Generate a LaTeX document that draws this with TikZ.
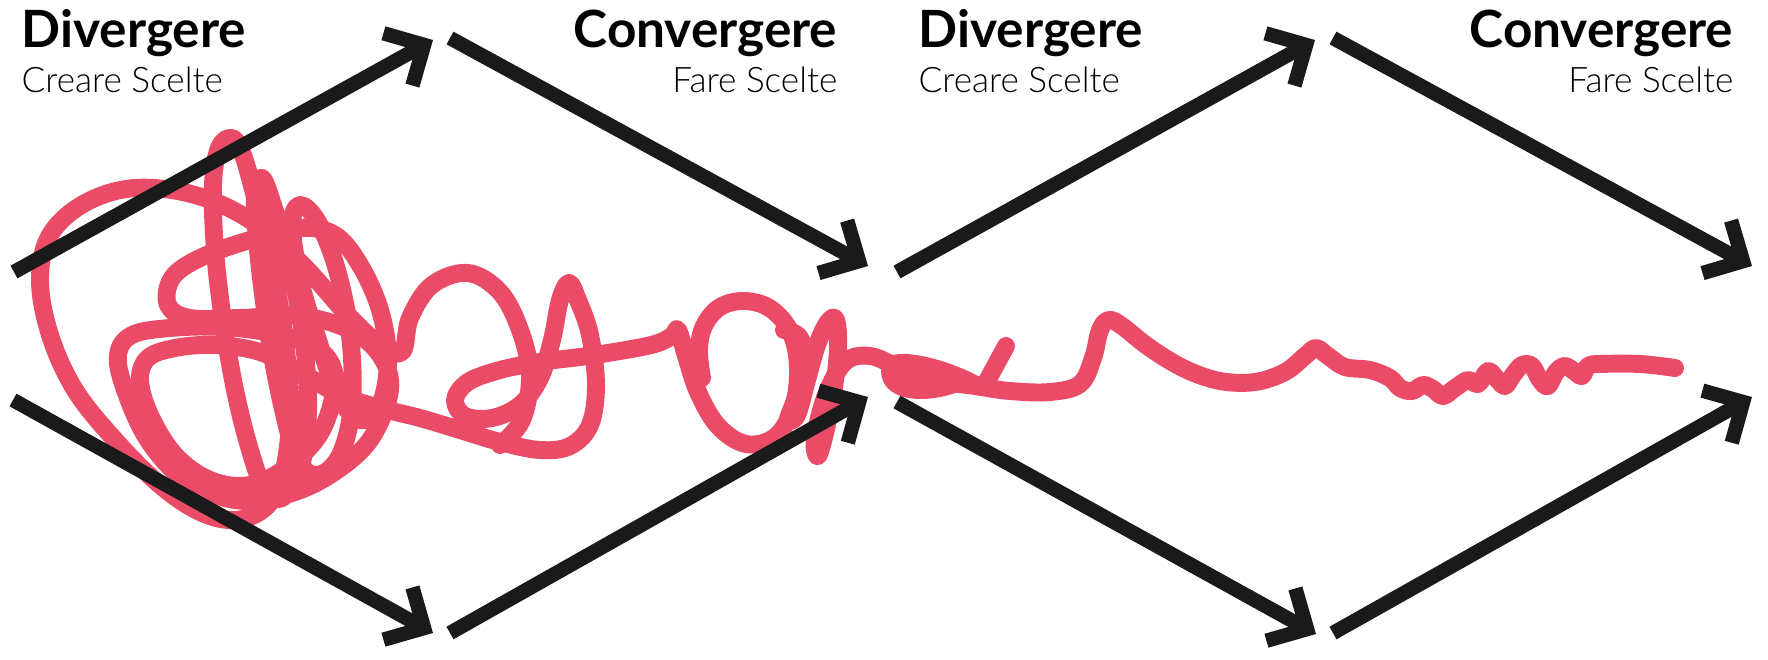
\documentclass[tikz,border=0pt]{standalone}
\usepackage{fontspec}
\setmainfont{Lato}
\newfontfamily\latolight{Lato Light}
\usetikzlibrary{arrows.meta}
\definecolor{scrib}{RGB}{234,76,103}
\definecolor{inkc}{RGB}{26,26,26}
\begin{document}
\begin{tikzpicture}[x=0.01cm,y=-0.01cm,
  flow/.style={draw=inkc, line width=4.1pt, -{Straight Barb[length=8.5pt,width=17pt,sharp]}},
  scribble/.style={draw=scrib, line width=5.1pt, line cap=round, line join=round},
  headbold/.style={font=\fontsize{14.6}{17}\selectfont\bfseries, text=black, inner sep=0pt},
  sublight/.style={font=\latolight\fontsize{10}{12}\selectfont, text=black, inner sep=0pt}]
\useasboundingbox (0,0) rectangle (1768,660);

% scribble: tangle and first loops
\draw[scribble] plot[smooth, tension=0.6] coordinates {
(500,445) (522,420) (530,375) (520,330) (500,292) (468,273) (432,285) (410,318) (402,352) (380,345) (345,312) (300,262) (250,220) (195,195) (135,188) (85,203) (50,235) (40,280) (50,335) (75,390) (115,440) (160,485) (200,512) (235,520) (265,508) (282,478) (290,420) (286,350) (274,275) (257,205) (243,155) (232,138) (219,148) (213,185) (215,250) (223,320) (235,390) (250,450) (265,490) (282,498) (300,470) (308,410) (303,335) (290,265) (273,205) (262,178) (255,195) (258,250) (268,330) (282,405) (298,460) (318,475) (340,455) (352,405) (350,335) (337,270) (318,222) (300,205) (292,225) (300,280) (318,340) (338,395) (360,420) (380,405) (388,360) (380,310) (360,265) (335,235) (300,228) (250,240) (200,258) (172,278) (168,305) (190,318) (240,318) (300,316) (350,330) (380,355) (390,390) (370,440) (330,475) (285,495) (235,500) (185,480) (148,440) (125,390) (118,355) (132,335) (170,328) (225,327) (280,335) (320,350) (335,380) (322,430) (290,465) (250,485) (210,480) (175,455) (150,415) (140,380) (148,358) (175,348) (215,345) (260,352) (300,372) (340,395) (380,408) (420,418) (460,430) (500,442) (540,450) (570,446) (590,425) (596,385) (590,335) (578,300) (569,283) (560,300) (552,340) (540,378) (520,405) (492,418) (465,416) (455,400) (468,382) (500,370) (540,362) (580,357) (620,351) (655,344) (672,336) (678,330) (686,356) (698,392) (718,426) (746,444) (775,437) (793,408) (798,368) (791,333) (771,309) (745,301) (720,307) (704,326) (699,350) (702,378)};
% scribble: from the round loop to the tail
\draw[scribble] plot[smooth, tension=0.6] coordinates {
(784,330) (800,338) (805,368) (795,400) (788,420) (797,415) (807,380) (817,345) (828,322) (836,320) (838,350) (832,400) (822,445) (817,456) (815,438) (826,395) (845,362) (870,356) (900,368) (935,380) (975,386) (1010,391) (1050,392) (1080,384) (1093,358) (1100,330) (1109,320) (1122,326) (1150,348) (1185,369) (1220,381) (1255,382) (1285,372) (1305,356) (1316,348) (1328,356) (1345,367) (1370,370) (1390,378) (1400,388) (1412,391) (1423,385) (1433,389) (1443,396) (1455,388) (1468,380) (1478,384) (1488,371) (1497,379) (1505,386) (1513,375) (1522,365) (1532,366) (1540,380) (1548,386) (1556,372) (1565,366) (1575,372) (1582,376) (1588,366) (1600,364) (1640,364) (1675,368)};
\fill[scrib] (884,360) .. controls (895,346) and (945,358) .. (982,378) .. controls (962,397) and (912,407) .. (891,391) .. controls (880,383) and (879,369) .. (884,360) -- cycle;
\draw[scribble] (987,381) -- (1006,346);

% arrows
\coordinate (d1s) at (14,272);  \coordinate (d1e) at (433,40);
\coordinate (c1s) at (450,38);  \coordinate (c1e) at (868,266);
\coordinate (d2s) at (13,400);  \coordinate (d2e) at (433,633);
\coordinate (c2s) at (450,633); \coordinate (c2e) at (868,397);
\coordinate (d3s) at (897,272); \coordinate (d3e) at (1315,40);
\coordinate (c3s) at (1333,38); \coordinate (c3e) at (1752,266);
\coordinate (d4s) at (897,402); \coordinate (d4e) at (1316,634);
\coordinate (c4s) at (1333,633);\coordinate (c4e) at (1752,397);
\draw[flow] (d1s) -- (d1e);
\draw[flow] (c1s) -- (c1e);
\draw[flow] (d2s) -- (d2e);
\draw[flow] (c2s) -- (c2e);
\draw[flow] (d3s) -- (d3e);
\draw[flow] (c3s) -- (c3e);
\draw[flow] (d4s) -- (d4e);
\draw[flow] (c4s) -- (c4e);

% labels
\node[headbold, anchor=base west] (div1) at (21,47) {Divergere};
\node[sublight, anchor=base west] (cre1) at (21,92) {Creare Scelte};
\node[headbold, anchor=base east] (con1) at (838,47) {Convergere};
\node[sublight, anchor=base east] (far1) at (838,92) {Fare Scelte};
\node[headbold, anchor=base west] (div2) at (918,47) {Divergere};
\node[sublight, anchor=base west] (cre2) at (918,92) {Creare Scelte};
\node[headbold, anchor=base east] (con2) at (1734,47) {Convergere};
\node[sublight, anchor=base east] (far2) at (1734,92) {Fare Scelte};
\end{tikzpicture}
\end{document}
